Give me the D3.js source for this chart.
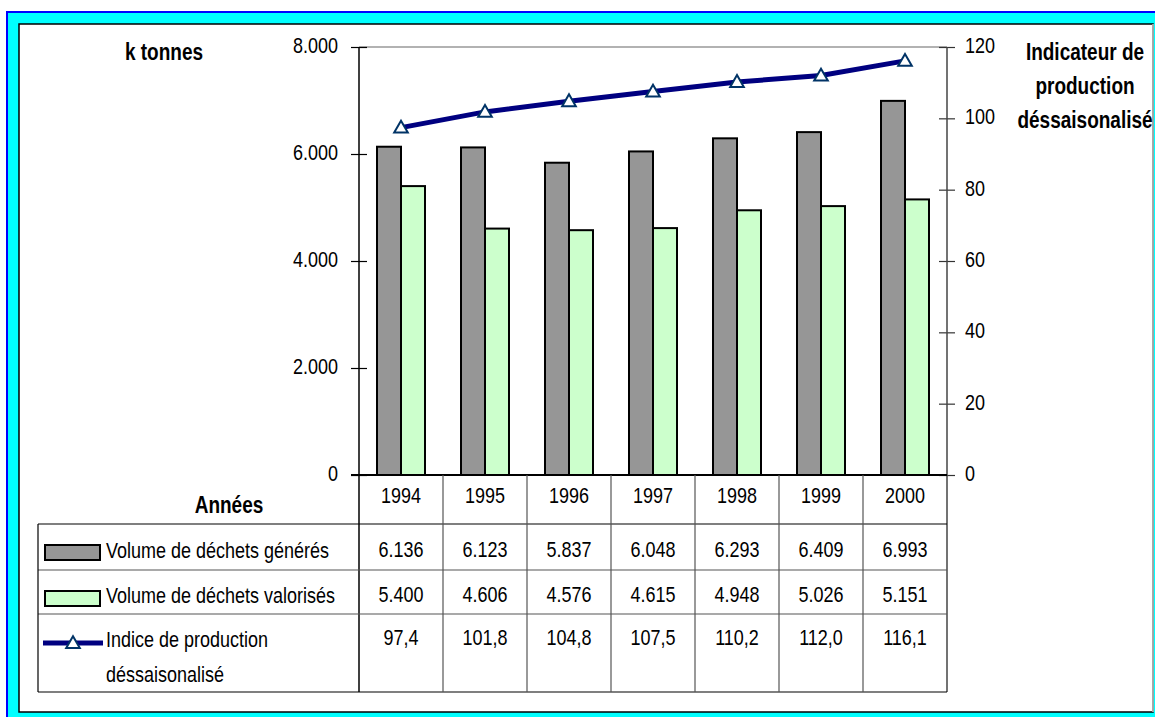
<!DOCTYPE html>
<html>
<head>
<meta charset="utf-8">
<script src="https://cdn.jsdelivr.net/npm/d3@7"></script>
<style>
  body { margin: 0; background: #fff; }
  svg { display: block; font-family: Arial, "Liberation Sans", sans-serif; }
</style>
</head>
<body>
<svg width="1155" height="717"></svg>
<script>
const YEARS = ['1994', '1995', '1996', '1997', '1998', '1999', '2000'];
const GENERES = [6136, 6123, 5837, 6048, 6293, 6409, 6993];
const VALORISES = [5400, 4606, 4576, 4615, 4948, 5026, 5151];
const INDICE = [97.4, 101.8, 104.8, 107.5, 110.2, 112.0, 116.1];
const LEFT_TICKS = [0, 2000, 4000, 6000, 8000];
const RIGHT_TICKS = [0, 20, 40, 60, 80, 100, 120];
const SERIES_NAMES = ['Volume de déchets générés', 'Volume de déchets valorisés'];

const PLOT = {left: 359, right: 947, top: 47, bottom: 475};
const TABLE = {left: 38, top: 524, rows: [570, 614], bottom: 692};
const STRETCH = 1.22;

const fr = d3.formatLocale({decimal: ',', thousands: '.', grouping: [3], currency: ['', ' €']});
const fmtK = fr.format(',d');
const fmtIdx = fr.format('.1f');

const svg = d3.select('svg');

// frame
svg.append('rect').attr('x', 7).attr('y', 12).attr('width', 1160).attr('height', 720)
  .attr('fill', '#00ffff').attr('stroke', '#0000ff').attr('stroke-width', 2);
svg.append('rect').attr('x', 19).attr('y', 24).attr('width', 1134).attr('height', 688)
  .attr('fill', '#fff').attr('stroke', '#000').attr('stroke-width', 1.5);
svg.append('line').attr('x1', 1153).attr('x2', 1153).attr('y1', 24).attr('y2', 712)
  .attr('stroke', '#ccc').attr('stroke-width', 1.5);

function label(g, x, y, str, anchor, bold) {
  return g.append('text')
    .attr('transform', `translate(${x},${y}) scale(1,${STRETCH})`)
    .attr('text-anchor', anchor || 'middle')
    .attr('font-size', bold ? 19 : 18)
    .attr('font-weight', bold ? 'bold' : 'normal')
    .attr('fill', '#000')
    .text(str);
}

const x = d3.scaleBand().domain(YEARS).range([PLOT.left, PLOT.right]).padding(0);
const xs = d3.scaleBand().domain([0, 1]).range([18, 66]).padding(0);
const yL = d3.scaleLinear().domain([0, 8000]).range([PLOT.bottom, PLOT.top]);
const yR = d3.scaleLinear().domain([0, 120]).range([PLOT.bottom, PLOT.top]);

const chart = svg.append('g');

// top border of plot area
chart.append('line').attr('x1', PLOT.left).attr('x2', PLOT.right)
  .attr('y1', PLOT.top).attr('y2', PLOT.top).attr('stroke', '#999').attr('stroke-width', 1.5);

// bars
const groups = chart.selectAll('.yr').data(YEARS).enter().append('g')
  .attr('transform', d => `translate(${x(d)},0)`);
const colors = ['#969696', '#ccffcc'];
[GENERES, VALORISES].forEach((vals, s) => {
  groups.append('rect')
    .attr('x', xs(s)).attr('width', xs.bandwidth())
    .attr('y', (d, i) => yL(vals[i]))
    .attr('height', (d, i) => yL(0) - yL(vals[i]))
    .attr('fill', colors[s]).attr('stroke', '#000').attr('stroke-width', 2);
});

// left axis
const axL = chart.append('g').attr('transform', `translate(${PLOT.left},0)`)
  .call(d3.axisLeft(yL).tickValues(LEFT_TICKS).tickFormat(fmtK).tickSizeOuter(0).tickSizeInner(8));
axL.select('.domain').remove();
axL.selectAll('.tick line').attr('x1', -8).attr('x2', 8).attr('stroke', '#000').attr('stroke-width', 1.2);
axL.selectAll('.tick text').remove();
LEFT_TICKS.forEach(t => label(chart, PLOT.left - 21, yL(t) + 6, fmtK(t), 'end'));

// right axis
const axR = chart.append('g').attr('transform', `translate(${PLOT.right},0)`)
  .call(d3.axisRight(yR).tickValues(RIGHT_TICKS).tickSizeOuter(0).tickSizeInner(8));
axR.select('.domain').remove();
axR.selectAll('.tick line').attr('x1', -8).attr('x2', 8).attr('stroke', '#333').attr('stroke-width', 1.2);
axR.selectAll('.tick text').remove();
RIGHT_TICKS.forEach(t => label(chart, PLOT.right + 18, yR(t) + 6, t, 'start'));

// axis lines (run through the table)
chart.append('line').attr('x1', PLOT.left).attr('x2', PLOT.left)
  .attr('y1', PLOT.top).attr('y2', TABLE.bottom).attr('stroke', '#000').attr('stroke-width', 1.5);
chart.append('line').attr('x1', PLOT.right).attr('x2', PLOT.right)
  .attr('y1', PLOT.top).attr('y2', TABLE.bottom).attr('stroke', '#444').attr('stroke-width', 1.5);

// index line
const line = d3.line().x((d, i) => x(YEARS[i]) + x.bandwidth() / 2).y(d => yR(d));
chart.append('path').datum(INDICE).attr('d', line)
  .attr('fill', 'none').attr('stroke', '#000080').attr('stroke-width', 5);
const tri = d3.symbol().type(d3.symbolTriangle).size(80);
chart.selectAll('.mk').data(INDICE).enter().append('path')
  .attr('d', tri)
  .attr('transform', (d, i) => `translate(${x(YEARS[i]) + x.bandwidth() / 2},${yR(d) + 1})`)
  .attr('fill', '#fff').attr('stroke', '#003366').attr('stroke-width', 2);

// axis titles
label(svg, 164, 60, 'k tonnes', 'middle', true);
label(svg, 1085, 60, 'Indicateur de', 'middle', true);
label(svg, 1085, 94, 'production', 'middle', true);
label(svg, 1085, 128, 'déssaisonalisé', 'middle', true);

// data table
const tbl = svg.append('g');
tbl.append('line').attr('x1', PLOT.left - 8).attr('x2', PLOT.right)
  .attr('y1', PLOT.bottom).attr('y2', PLOT.bottom).attr('stroke', '#000').attr('stroke-width', 2);
[TABLE.top, ...TABLE.rows, TABLE.bottom].forEach((yy, i) => {
  tbl.append('line').attr('x1', TABLE.left).attr('x2', PLOT.right)
    .attr('y1', yy).attr('y2', yy)
    .attr('stroke', i === 0 || i === 3 ? '#000' : '#555').attr('stroke-width', 1.2);
});
tbl.append('line').attr('x1', TABLE.left).attr('x2', TABLE.left)
  .attr('y1', TABLE.top).attr('y2', TABLE.bottom).attr('stroke', '#000').attr('stroke-width', 1.2);
YEARS.slice(1).forEach(yr => {
  tbl.append('line').attr('x1', x(yr)).attr('x2', x(yr))
    .attr('y1', PLOT.bottom).attr('y2', TABLE.bottom).attr('stroke', '#555').attr('stroke-width', 1.2);
});

label(tbl, 229, 513, 'Années', 'middle', true);
YEARS.forEach((yr, i) => {
  const cx = x(yr) + x.bandwidth() / 2;
  label(tbl, cx, 503, yr);
  label(tbl, cx, 557, fmtK(GENERES[i]));
  label(tbl, cx, 602, fmtK(VALORISES[i]));
  label(tbl, cx, 645, fmtIdx(INDICE[i]));
});

// legend keys
tbl.append('rect').attr('x', 45).attr('y', 545).attr('width', 55).attr('height', 15)
  .attr('fill', colors[0]).attr('stroke', '#000').attr('stroke-width', 2);
tbl.append('rect').attr('x', 45).attr('y', 591).attr('width', 55).attr('height', 15)
  .attr('fill', colors[1]).attr('stroke', '#000').attr('stroke-width', 2);
tbl.append('line').attr('x1', 43).attr('x2', 103).attr('y1', 643).attr('y2', 643)
  .attr('stroke', '#000080').attr('stroke-width', 5);
tbl.append('path').attr('d', tri).attr('transform', 'translate(73,644)')
  .attr('fill', '#fff').attr('stroke', '#003366').attr('stroke-width', 2);
label(tbl, 106, 558, SERIES_NAMES[0], 'start');
label(tbl, 106, 603, SERIES_NAMES[1], 'start');
label(tbl, 106, 647, 'Indice de production', 'start');
label(tbl, 106, 682, 'déssaisonalisé', 'start');
</script>
</body>
</html>
